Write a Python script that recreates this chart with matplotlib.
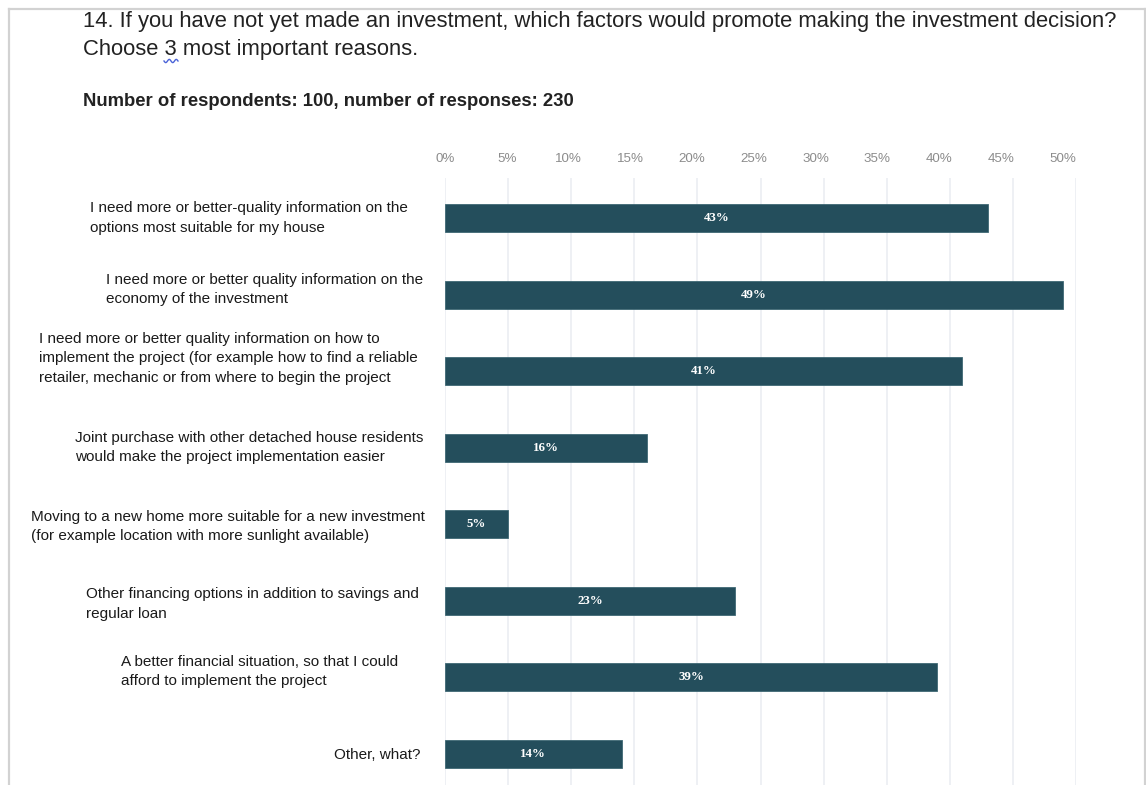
import matplotlib
matplotlib.use("Agg")
import matplotlib.pyplot as plt
from matplotlib import transforms
from matplotlib.lines import Line2D
import numpy as np

# ---- data -----------------------------------------------------------------
categories = [
    "I need more or better-quality information on the\noptions most suitable for my house",
    "I need more or better quality information on the\neconomy of the investment",
    "I need more or better quality information on how to\nimplement the project (for example how to find a reliable\nretailer, mechanic or from where to begin the project",
    "Joint purchase with other detached house residents\nwould make the project implementation easier",
    "Moving to a new home more suitable for a new investment\n(for example location with more sunlight available)",
    "Other financing options in addition to savings and\nregular loan",
    "A better financial situation, so that I could\nafford to implement the project",
    "Other, what?",
]
shares = [43, 49, 41, 16, 5, 23, 39, 14]
tick_values = [0, 5, 10, 15, 20, 25, 30, 35, 40, 45, 50]
tick_labels = [f"{t}%" for t in tick_values]

title_line1 = ("14. If you have not yet made an investment, which factors "
               "would promote making the investment decision?")
title_line2 = "Choose 3 most important reasons."
subtitle = "Number of respondents: 100, number of responses: 230"

# ---- layout (pixel based) ---------------------------------------------------
W, H, DPI = 1146, 785, 100
BAR_COLOR = "#244e5c"
SANS = ["Liberation Sans", "DejaVu Sans"]
SERIF = ["Liberation Serif", "DejaVu Serif"]

# right edge and vertical nudge (px, downwards) of each category label
label_right_px = [408, 423, 418, 423, 425, 419, 398, 420]
label_nudge_px = [0, -5, -13, 0, 2, 3, -6, 1]

# the percentage scale sits on its own overlay, slightly narrower than the grid
SCALE_LIMITS = (0.4, 51.1)


def fx(px):
    return px / W


def fy(py):
    return 1 - py / H


fig = plt.figure(figsize=(W / DPI, H / DPI), dpi=DPI)
fig.patch.set_facecolor("white")

ax = fig.add_axes([fx(445), 0, fx(1076) - fx(445), fy(178)])
ypos = np.arange(len(categories))
ax.barh(ypos, shares, height=0.366, color=BAR_COLOR, edgecolor="#3f6874",
        linewidth=0.6, zorder=3)
ax.set_xlim(0, 50)
ax.set_ylim(len(categories) - 1 + 0.405, -0.523)
ax.set_xticks(tick_values)
ax.set_yticks([])
ax.grid(axis="x", color="#edeff3", linewidth=1.3, zorder=0)
ax.tick_params(axis="x", length=0, labelbottom=False, labeltop=False,
               bottom=False, top=False)
for sp in ax.spines.values():
    sp.set_visible(False)
ax.set_facecolor("none")

# percentage scale above the plot
sc = ax.twiny()
sc.set_xlim(*SCALE_LIMITS)
sc.set_xticks(tick_values)
sc.set_xticklabels(tick_labels, fontsize=9.6, color="#8c8c8c", family=SANS)
sc.tick_params(axis="x", length=0, pad=9)
sc.grid(False)
for sp in sc.spines.values():
    sp.set_visible(False)

# values inside the bars
for i, v in enumerate(shares):
    ax.text(v / 2, i, f"{v}%", ha="center", va="center", color="white",
            family=SERIF, fontweight="bold", fontsize=9.3, zorder=4)

# category labels on the left
blend = transforms.blended_transform_factory(fig.transFigure, ax.transData)
for i, (lab, rpx, dpx) in enumerate(zip(categories, label_right_px, label_nudge_px)):
    tr = transforms.offset_copy(blend, fig=fig, x=0, y=-dpx, units="dots")
    ax.text(fx(rpx), i, lab, transform=tr, ha="right", va="center",
            multialignment="left", fontsize=11, color="#1a1a1a",
            family=SANS, linespacing=1.5)

# heading texts
fig.text(fx(83), fy(22), title_line1, ha="left", va="center",
         fontsize=15.8, color="#222222", family=SANS)
fig.text(fx(83), fy(50), title_line2, ha="left", va="center",
         fontsize=15.8, color="#222222", family=SANS)
fig.text(fx(83), fy(101), subtitle, ha="left", va="center",
         fontsize=13.3, fontweight="bold", color="#222222", family=SANS)

# spell-check squiggle under the "3"
sx = np.linspace(164, 178, 40)
sy = 61 + 1.6 * np.sin((sx - 164) / 14 * 4 * np.pi)
fig.add_artist(Line2D(fx(sx), fy(sy), color="#4a63d8", linewidth=1.0))

# page frame
frame = dict(color="#d2d2d2", linewidth=1.6)
fig.add_artist(Line2D([fx(9), fx(9)], [0, fy(9)], **frame))
fig.add_artist(Line2D([fx(1145), fx(1145)], [0, fy(9)], **frame))
fig.add_artist(Line2D([fx(9), fx(1145)], [fy(9), fy(9)], **frame))

fig.savefig("out.png", dpi=DPI, facecolor="white")
